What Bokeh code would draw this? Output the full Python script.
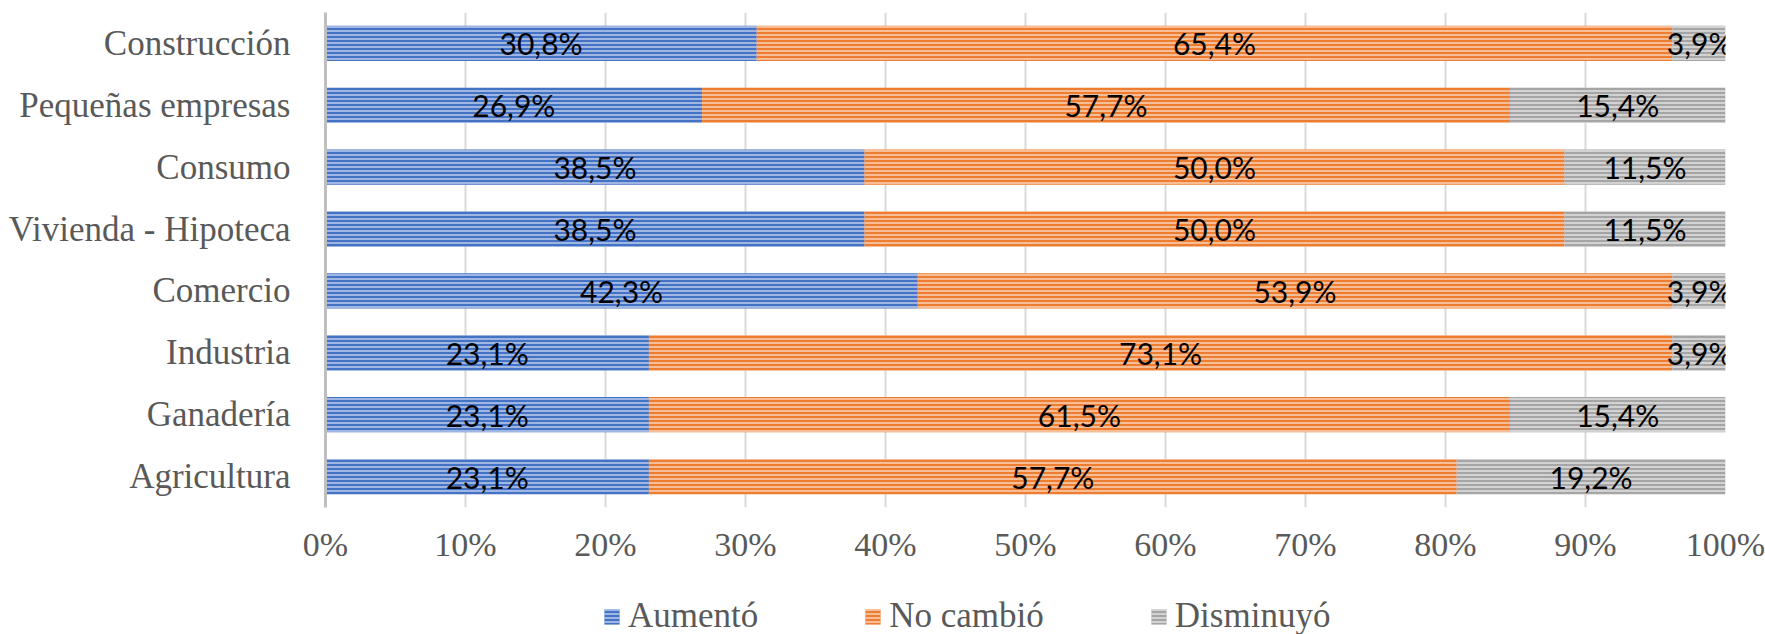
from bokeh.plotting import figure
from bokeh.layouts import column
from bokeh.models import (ColumnDataSource, FactorRange, Range1d, FixedTicker,
                          NumeralTickFormatter, Legend, LegendItem)
from bokeh.core.properties import value
from bokeh.embed import file_html
from bokeh.resources import INLINE

# ---- data (percent) ----
categories = ["Agricultura", "Ganadería", "Industria", "Comercio",
              "Vivienda - Hipoteca", "Consumo", "Pequeñas empresas", "Construcción"]
aumento = [23.1, 23.1, 23.1, 42.3, 38.5, 38.5, 26.9, 30.8]
no_cambio = [57.7, 61.5, 73.1, 53.9, 50.0, 50.0, 57.7, 65.4]
disminuyo = [19.2, 15.4, 3.9, 3.9, 11.5, 11.5, 15.4, 3.9]
series_names = ["Aumentó", "No cambió", "Disminuyó"]
tick_values = [0.0, 0.1, 0.2, 0.3, 0.4, 0.5, 0.6, 0.7, 0.8, 0.9, 1.0]

fill_colors = ["#4472C4", "#ED7D31", "#A5A5A5"]
stripe_colors = ["#BCCDEB", "#FAD3B8", "#E2E2E2"]

series = [aumento, no_cambio, disminuyo]
data = {"cat": categories}
for name, vals in zip(series_names, series):
    data[name] = [v / 100.0 for v in vals]
source = ColumnDataSource(data)

# label positions
lx, ly, lt = [], [], []
for i, cat in enumerate(categories):
    left = 0.0
    for vals in series:
        v = vals[i] / 100.0
        lx.append(left + v / 2.0)
        ly.append(cat)
        lt.append(("%.1f" % vals[i]).replace(".", ",") + "%")
        left += v
label_source = ColumnDataSource(dict(x=lx, y=ly, text=lt))

SERIF = "Liberation Serif"
GRAY_TXT = "#595959"
bar_style = dict(line_color=None, hatch_pattern="horizontal_line",
                 hatch_scale=4, hatch_weight=1.5)

p = figure(frame_width=1400, frame_height=495,
           y_range=FactorRange(factors=categories, range_padding=0),
           x_range=Range1d(0, 1),
           output_backend="svg", toolbar_location=None,
           min_border_left=325, min_border_right=40,
           min_border_top=12, min_border_bottom=56)

renderers = p.hbar_stack(series_names, y="cat", height=0.57, source=source,
                         fill_color=fill_colors, hatch_color=stripe_colors, **bar_style)

p.text(x="x", y="y", text="text", source=label_source,
       text_align="center", text_baseline="middle",
       text_font=value("Lato"), text_font_size="30px", text_color="#000000")

# axes
p.xaxis.ticker = FixedTicker(ticks=tick_values)
p.xaxis.formatter = NumeralTickFormatter(format="0%")
p.xaxis.axis_line_color = None
p.xaxis.major_tick_line_color = None
p.xaxis.minor_tick_line_color = None
p.xaxis.major_label_text_font = SERIF
p.xaxis.major_label_text_font_size = "34px"
p.xaxis.major_label_text_color = GRAY_TXT
p.xaxis.major_label_standoff = 12

p.yaxis.axis_line_color = "#BFBFBF"
p.yaxis.axis_line_width = 3
p.yaxis.major_tick_line_color = None
p.yaxis.minor_tick_line_color = None
p.yaxis.major_label_text_font = SERIF
p.yaxis.major_label_text_font_size = "35px"
p.yaxis.major_label_text_color = GRAY_TXT
p.yaxis.major_label_standoff = 29

p.xgrid.grid_line_color = "#D9D9D9"
p.xgrid.grid_line_width = 2
p.ygrid.grid_line_color = None
p.outline_line_color = None

# ---- legend strip below the chart ----
# hidden copies of the stacked bars feed the legend glyphs
lg = figure(width=1765, height=634 - 563,
            x_range=Range1d(5, 6), y_range=FactorRange(factors=categories, range_padding=0),
            x_axis_location=None, y_axis_location=None,
            output_backend="svg", toolbar_location=None, min_border=0)
lg.grid.visible = False
lg.outline_line_color = None
leg_renderers = lg.hbar_stack(series_names, y="cat", height=0.57, source=source,
                              fill_color=fill_colors, hatch_color=stripe_colors, **bar_style)
for r in leg_renderers:
    r.visible = False

legend = Legend(items=[LegendItem(label=n, renderers=[r]) for n, r in zip(series_names, leg_renderers)],
                orientation="horizontal", location=(277, 0),
                glyph_width=19, glyph_height=19, label_standoff=7, spacing=105,
                padding=0, margin=0, border_line_color=None, background_fill_alpha=0,
                inactive_fill_alpha=0,
                label_text_font=SERIF, label_text_font_size="35px",
                label_text_color=GRAY_TXT)
lg.add_layout(legend, "center")

layout = column(p, lg, spacing=0)
open("out.html", "w").write(file_html(layout, INLINE))
